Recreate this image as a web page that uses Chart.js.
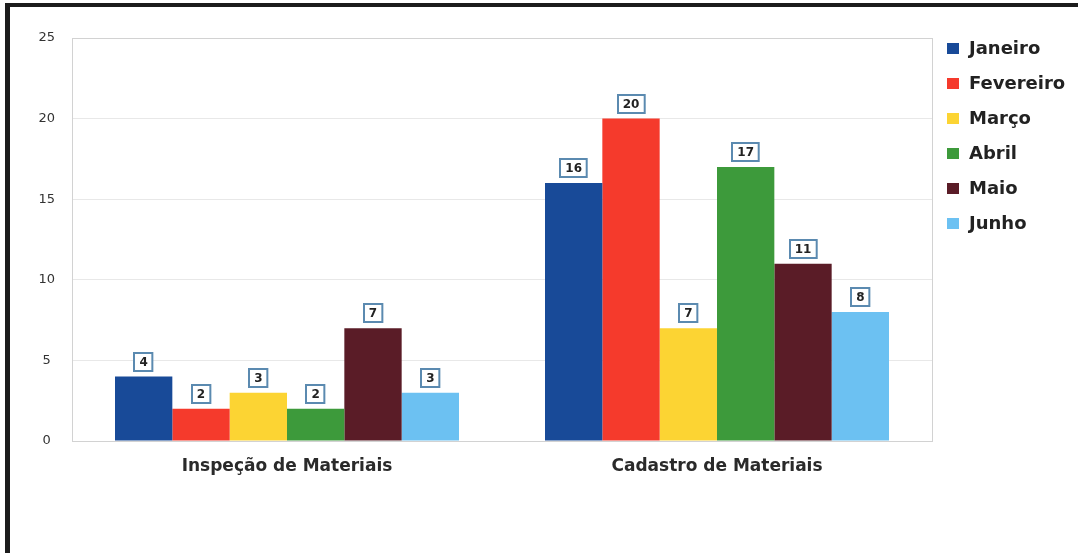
<!DOCTYPE html>
<html>
<head>
<meta charset="utf-8">
<script src="https://cdn.jsdelivr.net/npm/chart.js@4"></script>
<style>
  html, body { margin: 0; padding: 0; background: #fff; overflow: hidden; }
  #wrap { position: relative; width: 1078px; height: 553px; }
  #frame {
    position: absolute; left: 5px; top: 3px; width: 1100px; height: 546px;
    border-top: 4px solid #1c1c1c; border-left: 5px solid #1c1c1c;
    border-bottom: 1px solid #cfcfcf; pointer-events: none;
  }
  canvas { position: absolute; left: 0; top: 0; }
</style>
</head>
<body>
<div id="wrap">
  <canvas id="chart" width="1078" height="553"></canvas>
  <div id="frame"></div>
</div>
<script>
// data
const categories = ['Inspeção de Materiais', 'Cadastro de Materiais'];
const months = ['Janeiro', 'Fevereiro', 'Março', 'Abril', 'Maio', 'Junho'];
const janeiro = [4, 16];
const fevereiro = [2, 20];
const marco = [3, 7];
const abril = [2, 17];
const maio = [7, 11];
const junho = [3, 8];
const yTicks = [0, 5, 10, 15, 20, 25];

const seriesValues = [janeiro, fevereiro, marco, abril, maio, junho];
const barColors = ['#184a98', '#f53a2c', '#fcd433', '#3d9a3b', '#5a1c27', '#6cc1f2'];

const FONT = '"DejaVu Sans", Verdana, sans-serif';

// box around the plot area
const plotBox = {
  id: 'plotBox',
  beforeDatasetsDraw(chart) {
    const { ctx, chartArea: a } = chart;
    ctx.save();
    ctx.strokeStyle = '#d2d2d2';
    ctx.lineWidth = 1;
    ctx.strokeRect(a.left + 0.5, a.top + 0.5, a.right - a.left, a.bottom - a.top);
    ctx.restore();
  }
};

// boxed value labels above each bar
const valueBoxes = {
  id: 'valueBoxes',
  afterDatasetsDraw(chart) {
    const ctx = chart.ctx;
    ctx.save();
    ctx.font = 'bold 12px ' + FONT;
    ctx.textAlign = 'center';
    ctx.textBaseline = 'middle';
    chart.data.datasets.forEach((ds, i) => {
      chart.getDatasetMeta(i).data.forEach((bar, j) => {
        const txt = String(ds.data[j]);
        const w = ctx.measureText(txt).width + 10;
        const h = 18;
        const bx = Math.round(bar.x - w / 2);
        const by = Math.round(bar.y - 6 - h);
        ctx.fillStyle = '#fff';
        ctx.fillRect(bx, by, w, h);
        ctx.strokeStyle = '#5b8ab0';
        ctx.lineWidth = 2;
        ctx.strokeRect(bx, by, w, h);
        ctx.fillStyle = '#222';
        ctx.fillText(txt, bar.x, by + h / 2 + 1);
      });
    });
    ctx.restore();
  }
};

// legend at the right
const sideLegend = {
  id: 'sideLegend',
  afterDraw(chart) {
    const ctx = chart.ctx;
    ctx.save();
    ctx.font = 'bold 18px ' + FONT;
    ctx.textBaseline = 'middle';
    chart.data.datasets.forEach((ds, i) => {
      const y = 48 + i * 35;
      ctx.fillStyle = ds.backgroundColor;
      ctx.fillRect(947, y - 5, 12, 11);
      ctx.fillStyle = '#222';
      ctx.fillText(ds.label, 969, y + 1);
    });
    ctx.restore();
  }
};

new Chart(document.getElementById('chart'), {
  type: 'bar',
  data: {
    labels: categories,
    datasets: months.map((m, i) => ({
      label: m,
      data: seriesValues[i],
      backgroundColor: barColors[i],
      borderWidth: 0,
      barPercentage: 1,
      categoryPercentage: 0.8
    }))
  },
  options: {
    responsive: false,
    animation: false,
    layout: { padding: { left: 0, top: 38, right: 146, bottom: 72 } },
    plugins: {
      legend: { display: false },
      tooltip: { enabled: false }
    },
    scales: {
      x: {
        grid: { display: false, drawTicks: false },
        border: { display: false },
        ticks: {
          padding: 15,
          color: '#2a2a2a',
          font: { family: FONT, size: 17, weight: 'bold' }
        },
        afterFit(scale) { scale.height = 40; }
      },
      y: {
        min: 0,
        max: 25,
        afterBuildTicks(scale) { scale.ticks = yTicks.map(v => ({ value: v })); },
        grid: { color: '#e8e8e8', drawTicks: false },
        border: { display: false },
        ticks: {
          padding: 17,
          crossAlign: 'center',
          color: '#333',
          font: { family: FONT, size: 13 }
        },
        afterFit(scale) { scale.width = 72; }
      }
    }
  },
  plugins: [plotBox, valueBoxes, sideLegend]
});
</script>
</body>
</html>
